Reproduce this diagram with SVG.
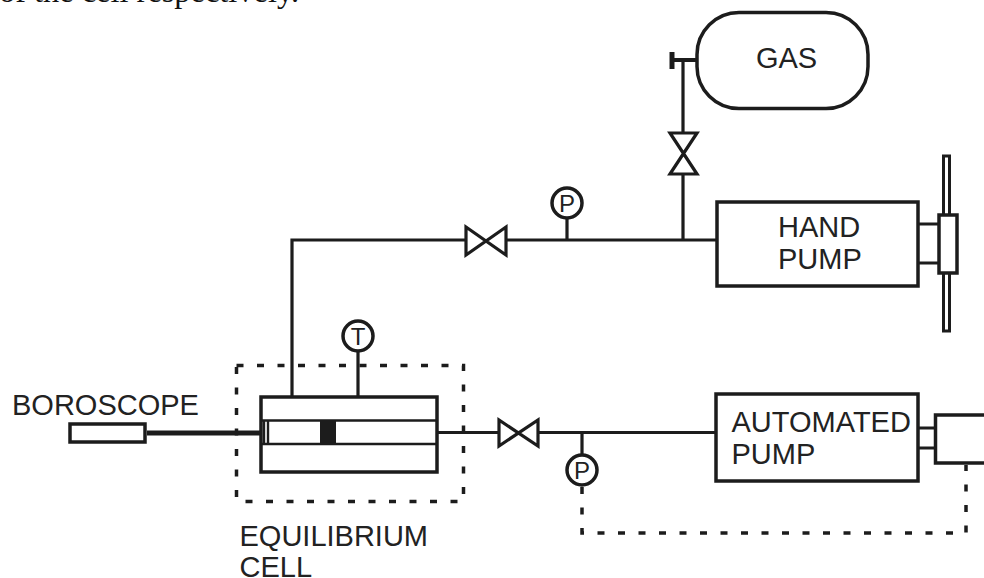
<svg xmlns="http://www.w3.org/2000/svg" width="984" height="578" viewBox="0 0 984 578">
<style>
.s{fill:none;stroke:#1c1c1c;stroke-width:3.2}
.b{fill:#fff;stroke:#1c1c1c;stroke-width:3.5}
.t{fill:none;stroke:#1c1c1c;stroke-width:2.4}
.d{fill:none;stroke:#1c1c1c;stroke-width:3.5;stroke-dasharray:7 13.5}
text{font-family:"Liberation Sans",Arial,sans-serif;font-size:29px;fill:#222}
.g{font-size:24px}
</style>
<rect width="984" height="578" fill="#fff"/>
<text x="-1" y="2" style="font-family:'Liberation Serif','Times New Roman',serif;font-size:32.400px;fill:#111">of the cell respectively.</text>
<g id="connectors">
<path class="s" d="M292 397V240H465M507 240H716M567 218V240M683 240V174M683 133V60"/>
<path class="s" d="M437 432.500H498M539 432.500H716M582 432.500V455"/>
<path class="s" d="M672 60H697" style="stroke-width:4"/>
<path class="s" d="M358 351V397"/>
<path class="s" d="M147 433H260" style="stroke-width:5"/>
<path class="d" d="M582 487V533H966V465"/>
</g>
<g id="gas"><rect class="b" x="697" y="12.500" width="171" height="96" rx="42"/><path d="M672 52V69" stroke="#1c1c1c" stroke-width="5"/><text x="786.500" y="68" text-anchor="middle">GAS</text></g>
<g id="valve-gas"><path class="s" d="M670 133H697L670 174H697Z"/></g>
<g id="valve-top"><path class="s" d="M466 227V255L506 227V255Z"/></g>
<g id="gauge-p-top"><circle class="b" cx="567" cy="203" r="15"/><text class="g" x="567" y="212" text-anchor="middle">P</text></g>
<g id="hand-pump">
<path class="s" d="M918 224H938M918 263H938"/>
<rect class="b" x="717" y="202" width="201" height="84"/>
<rect class="t" x="943.500" y="156" width="6" height="175" style="fill:#fff;stroke-width:3"/>
<rect class="b" x="939" y="215" width="18" height="58"/>
<text x="778" y="237">HAND</text><text x="778" y="269">PUMP</text>
</g>
<g id="cell-boundary"><rect class="d" x="236.500" y="365.500" width="227" height="136"/></g>
<g id="gauge-t"><circle class="b" cx="358" cy="336" r="15"/><text class="g" x="358" y="345" text-anchor="middle">T</text></g>
<g id="equilibrium-cell">
<rect class="b" x="261" y="397" width="176" height="75"/>
<path class="t" d="M261 420.500H437M261 444H437M268 420.500V444M264 420.500V444"/>
<rect x="320" y="420" width="16" height="24" fill="#1c1c1c"/>
<text x="239.500" y="546">EQUILIBRIUM</text><text x="239.500" y="577">CELL</text>
</g>
<g id="boroscope"><rect class="b" x="70" y="424" width="75" height="18"/><text x="12" y="415">BOROSCOPE</text></g>
<g id="valve-bottom"><path class="s" d="M499 420V446L538 420V446Z"/></g>
<g id="gauge-p-bottom"><circle class="b" cx="582" cy="470" r="15"/><text class="g" x="582" y="479" text-anchor="middle">P</text></g>
<g id="automated-pump">
<path class="s" d="M918 428H936M918 448H936"/>
<rect class="b" x="716" y="394" width="202" height="87"/>
<path class="b" d="M986 415H935.500V463H986"/>
<text x="731.500" y="432">AUTOMATED</text><text x="731.500" y="464">PUMP</text>
</g>
</svg>
